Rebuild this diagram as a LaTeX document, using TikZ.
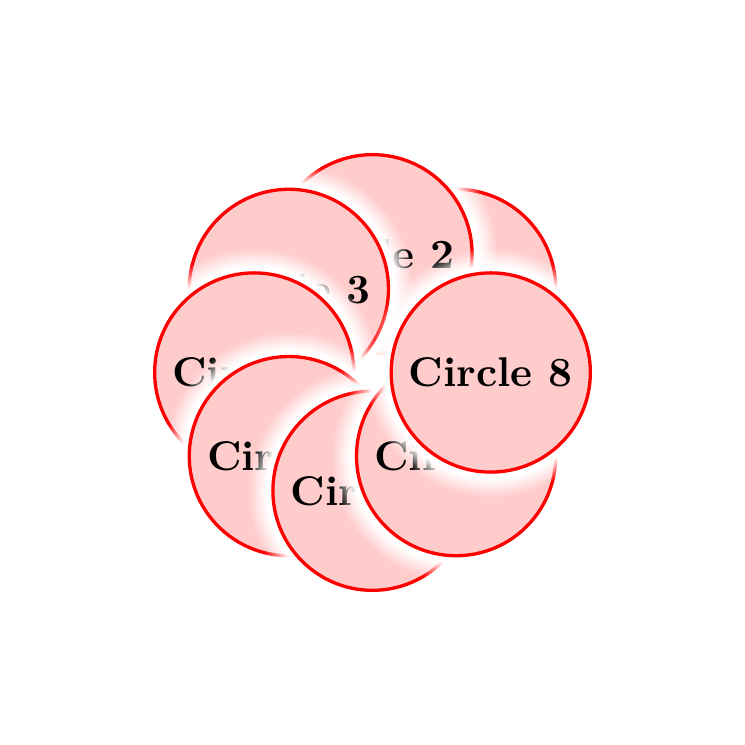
\documentclass[tikz,border=0pt]{standalone}
\usepackage{tikz}
\usetikzlibrary{shadows,fadings}

\begin{document}
\begin{tikzpicture}[disc/.style={circle,draw=red,thick,fill=red!20,font=\bfseries,circular glow={fill=white}}]

    \useasboundingbox (-3.15,-3.15) rectangle (3.15,3.15);

    \node (c1) at (45:1) [disc] {Circle 1};
    \node (c2) at (90:1) [disc] {Circle 2};
    \node (c3) at (135:1) [disc] {Circle 3};
    \node (c4) at (180:1) [disc] {Circle 4};
    \node (c5) at (225:1) [disc] {Circle 5};
    \node (c6) at (270:1) [disc] {Circle 6};
    \node (c7) at (315:1) [disc] {Circle 7};
    \node (c8) at (360:1) [disc] {Circle 8};
  \end{tikzpicture}
\end{document}
